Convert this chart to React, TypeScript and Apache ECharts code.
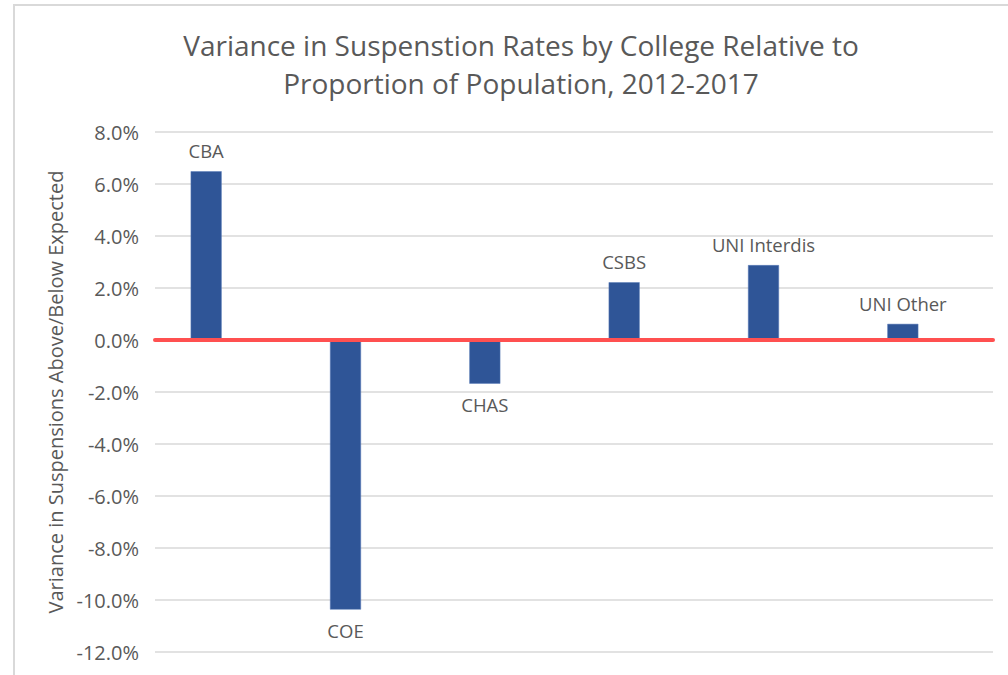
import React, { useEffect, useRef } from "react";
import * as echarts from "echarts";

const categories = ["CBA", "COE", "CHAS", "CSBS", "UNI Interdis", "UNI Other"];
const values = [0.0649, -0.1037, -0.0168, 0.0222, 0.0288, 0.0062];
const titleText = "Variance in Suspenstion Rates by College Relative to\nProportion of Population, 2012-2017";
const yAxisName = "Variance in Suspensions Above/Below Expected";
const yMin = -0.12;
const yMax = 0.08;
const yStep = 0.02;

const FONT = "'Open Sans', sans-serif";
const TEXT = "#595959";

export default function App() {
  const ref = useRef<HTMLDivElement>(null);
  useEffect(() => {
    if (!ref.current) return;
    const chart = echarts.init(ref.current, undefined, { renderer: "svg" });
    chart.setOption({
      animation: false,
      backgroundColor: "#ffffff",
      textStyle: { fontFamily: FONT },
      title: {
        text: titleText,
        left: 516,
        top: 21,
        textAlign: "center",
        textStyle: { fontFamily: FONT, fontSize: 28, fontWeight: "normal", color: TEXT, lineHeight: 38 },
      },
      graphic: [
        { type: "line", shape: { x1: 13, y1: 5, x2: 1008, y2: 5 }, style: { stroke: "#d9d9d9", lineWidth: 2 } },
        { type: "line", shape: { x1: 14, y1: 5, x2: 14, y2: 675 }, style: { stroke: "#d9d9d9", lineWidth: 2 } },
      ],
      grid: [
        { left: 155, right: 15, top: 132, bottom: 23, containLabel: false },
        { left: 136.5, right: 35.5, top: 132, bottom: 23, containLabel: false },
      ],
      xAxis: [
        {
          type: "category",
          gridIndex: 0,
          data: categories,
          z: 5,
          axisLine: { show: true, onZero: true, lineStyle: { color: "#FF5050", width: 4 } },
          axisTick: { show: false },
          axisLabel: { show: false },
        },
        {
          type: "category",
          gridIndex: 1,
          data: categories,
          axisLine: { show: false },
          axisTick: { show: false },
          axisLabel: { show: false },
        },
      ],
      yAxis: [
        {
          type: "value",
          gridIndex: 0,
          min: yMin,
          max: yMax,
          interval: yStep,
          name: yAxisName,
          nameLocation: "middle",
          nameGap: 82,
          nameTextStyle: { fontFamily: FONT, fontSize: 20, color: TEXT },
          axisLine: { show: false },
          axisTick: { show: false },
          axisLabel: {
            fontFamily: FONT,
            fontSize: 20,
            color: TEXT,
            margin: 16,
            formatter: (v: number) => (v * 100).toFixed(1) + "%",
          },
          splitLine: { lineStyle: { color: "#d9d9d9", width: 1.5 } },
        },
        {
          type: "value",
          gridIndex: 1,
          min: yMin,
          max: yMax,
          interval: yStep,
          axisLine: { show: false },
          axisTick: { show: false },
          axisLabel: { show: false },
          splitLine: { show: false },
        },
      ],
      series: [
        {
          type: "bar",
          xAxisIndex: 1,
          yAxisIndex: 1,
          z: 2,
          data: values.map((v) => ({
            value: v,
            label: { position: v >= 0 ? "top" : "bottom" },
          })),
          barWidth: 31,
          itemStyle: { color: "#2F5597", borderColor: "#5B7DB8", borderWidth: 0.5 },
          label: {
            show: true,
            distance: 11,
            fontFamily: FONT,
            fontSize: 18.5,
            color: TEXT,
            formatter: (p: any) => categories[p.dataIndex],
          },
        },
      ],
    });
    return () => chart.dispose();
  }, []);
  return <div ref={ref} style={{ position: "fixed", left: 0, top: 0, width: 1008, height: 675 }} />;
}
